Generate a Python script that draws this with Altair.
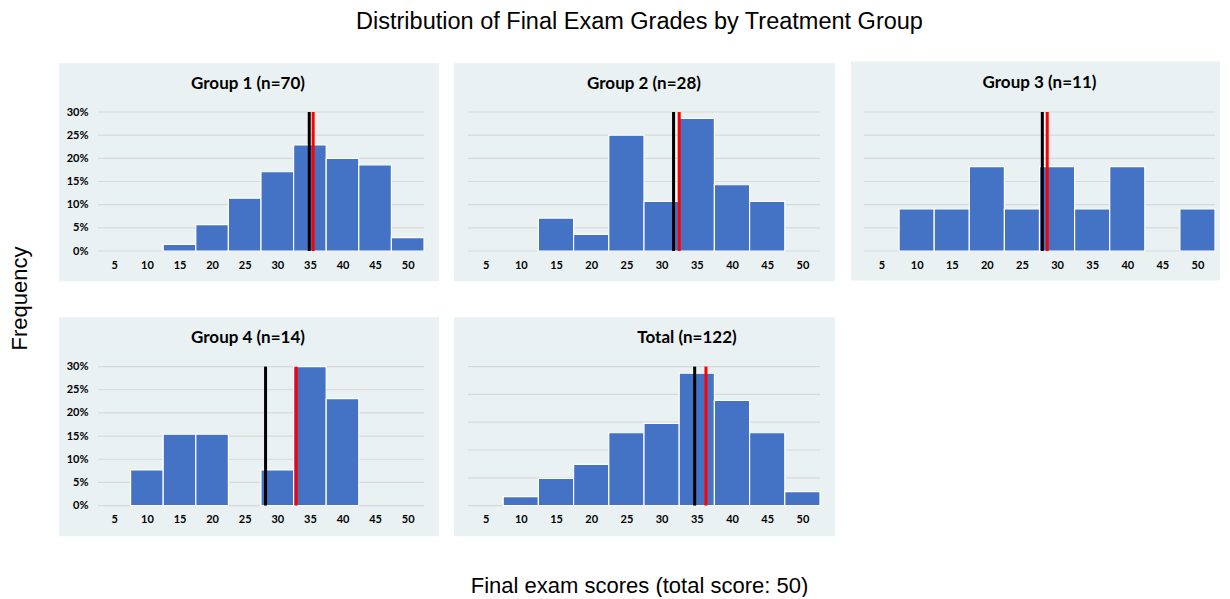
import altair as alt
import pandas as pd

# ---------------- data ----------------
scores = [5, 10, 15, 20, 25, 30, 35, 40, 45, 50]
group1_pct = [0, 0, 1.4, 5.7, 11.4, 17.1, 22.9, 20.0, 18.6, 2.9]
group2_pct = [0, 0, 7.1, 3.6, 25.0, 10.7, 28.6, 14.3, 10.7, 0]
group3_pct = [0, 9.1, 9.1, 18.2, 9.1, 18.2, 9.1, 18.2, 0, 9.1]
group4_pct = [0, 7.7, 15.4, 15.4, 0, 7.7, 30.8, 23.1, 0, 0]
total_pct = [0, 1.6, 4.9, 7.4, 13.1, 14.8, 23.8, 18.9, 13.1, 2.5]
panel_titles = ["Group 1 (n=70)", "Group 2 (n=28)", "Group 3 (n=11)",
                "Group 4 (n=14)", "Total (n=122)"]
black_line = [34.9, 31.7, 27.9, 28.2, 34.7]
red_line = [35.5, 32.5, 28.6, 32.9, 36.3]
y_max = [30, 30, 30, 30, 25]
show_y_labels = [True, False, False, True, False]
main_title = "Distribution of Final Exam Grades by Treatment Group"
y_title = "Frequency"
x_title = "Final exam scores (total score: 50)"

series = [group1_pct, group2_pct, group3_pct, group4_pct, total_pct]

# ---------------- styling / layout ----------------
BG = "#e9f1f3"
BAR = "#4472c4"
GRID = "#d9d9d9"
PFONT = "Lato"
SFONT = "Liberation Sans"
H = 139
widths = [326, 352, 351, 326, 352]
# background box extents relative to plot area: left, right, top, bottom
boxes = [(-39, 15, -48.7, 30.3), (-14, 15, -48.7, 30.3), (-13, 5, -50.5, 29.5),
         (-39, 15, -49.3, 30.7), (-14, 15, -49.3, 30.7)]
title_dx = [-13, 0, 0, -13, 43]


def make_panel(i):
    w = widths[i]
    bx = boxes[i]
    ymax = y_max[i]
    ticks = list(range(0, ymax + 1, 5))
    xscale = alt.Scale(domain=[2.5, 52.5], nice=False, zero=False)
    yscale = alt.Scale(domain=[0, ymax], nice=False, clamp=True)

    if show_y_labels[i]:
        ykw = dict(values=ticks, labelExpr="datum.value + '%'", grid=False,
                   domain=False, ticks=False, labelFont=PFONT, labelFontSize=11,
                   labelFontWeight="bold", labelColor="black", labelPadding=10,
                   zindex=1)
        if i == 0:
            ykw.update(title=y_title, titleX=-79, titleY=186, titleFont=SFONT,
                       titleFontSize=22, titleFontWeight="normal", titleColor="black",
                       titleBaseline="middle", titleAlign="center", titleAngle=270)
        else:
            ykw.update(title=None)
        yaxis = alt.Axis(**ykw)
    else:
        yaxis = None

    xkw = dict(values=scores, grid=False, domain=False, ticks=False,
               labelFont=PFONT, labelFontSize=11, labelFontWeight="bold",
               labelColor="black", labelPadding=8, labelOverlap=False, zindex=1)
    if i == 4:
        xkw.update(title=x_title, titleX=171, titleY=79.5, titleFont=SFONT,
                   titleFontSize=22, titleFontWeight="normal", titleColor="black",
                   titleBaseline="middle", titleAlign="center")
    else:
        xkw.update(title=None)
    xaxis = alt.Axis(**xkw)

    bg = alt.Chart(pd.DataFrame({"k": [0]})).mark_rect(fill=BG).encode(
        x=alt.value(bx[0]), x2=alt.value(w + bx[1]),
        y=alt.value(bx[2]), y2=alt.value(H + bx[3]))

    grid = alt.Chart(pd.DataFrame({"tick": ticks})).mark_rule(
        color=GRID, strokeWidth=1.2).encode(
        y=alt.Y("tick:Q", scale=yscale, axis=yaxis),
        x=alt.value(0), x2=alt.value(w))

    df = pd.DataFrame({"score": scores, "pct": series[i]})
    bars = alt.Chart(df).transform_filter("datum.pct > 0").transform_calculate(
        lo="datum.score - 2.5", hi="datum.score + 2.5", base="0").mark_rect(
        fill=BAR, stroke="white", strokeWidth=1.2).encode(
        x=alt.X("lo:Q", scale=xscale, axis=xaxis), x2="hi:Q",
        y=alt.Y("pct:Q", scale=yscale, axis=yaxis), y2="base:Q")

    ldf_b = pd.DataFrame({"v": [black_line[i]], "top": [ymax], "bottom": [0]})
    ldf_r = pd.DataFrame({"v": [red_line[i]], "top": [ymax], "bottom": [0]})
    lb = alt.Chart(ldf_b).mark_rule(color="black", strokeWidth=3).encode(
        x=alt.X("v:Q", scale=xscale, axis=xaxis),
        y=alt.Y("top:Q", scale=yscale, axis=yaxis), y2="bottom:Q")
    lr = alt.Chart(ldf_r).mark_rule(color="#ff0000", strokeWidth=3).encode(
        x=alt.X("v:Q", scale=xscale, axis=xaxis),
        y=alt.Y("top:Q", scale=yscale, axis=yaxis), y2="bottom:Q")

    return alt.layer(bg, grid, bars, lb, lr).properties(
        width=w, height=H,
        title=alt.TitleParams(panel_titles[i], font=PFONT, fontSize=17,
                              fontWeight="bold", color="black", anchor="middle",
                              frame="group", dx=title_dx[i], offset=-30, zindex=1))


panels = [make_panel(i) for i in range(5)]

chart = alt.concat(*panels, columns=3, spacing={"row": 115.6, "column": 44},
                   bounds="flush").properties(
    title=alt.TitleParams(main_title, font=SFONT, fontSize=23.5, fontWeight="normal",
                          color="black", anchor="middle", frame="bounds", dx=25.5,
                          offset=28),
    padding={"left": 0, "top": 2, "right": 0, "bottom": 0},
    background="white",
).configure_view(stroke=None)

chart.save("out.html", embed_options={"renderer": "svg", "actions": False})
